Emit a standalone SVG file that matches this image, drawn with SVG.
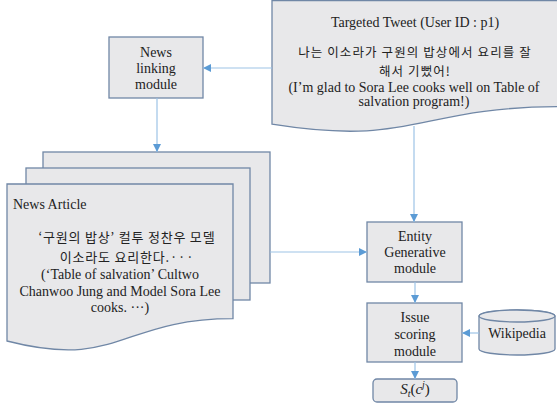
<svg xmlns="http://www.w3.org/2000/svg" width="557" height="408" viewBox="0 0 557 408">
<defs>
<style>
.box{fill:#E8E8EA;stroke:#7087A6;stroke-width:1.3}
.t{font-family:"Liberation Serif","Times New Roman",serif;font-size:14px;fill:#222;text-anchor:middle}
.k{font-family:"Noto Sans CJK KR","Noto Sans",sans-serif;font-size:13px;letter-spacing:0.8px}
.kt{font-family:"Noto Sans CJK KR","Noto Sans",sans-serif;font-size:12.5px;letter-spacing:1.1px}
.e{font-family:"Liberation Serif","Times New Roman",serif;font-size:14px;letter-spacing:0}
.ln{fill:none;stroke:#9DC3E6;stroke-width:1.2}
</style>
<marker id="ah" markerWidth="8" markerHeight="8" refX="8" refY="4" orient="auto" markerUnits="userSpaceOnUse">
<path d="M0,0 L8,4 L0,8 Z" fill="#5B9BD5"/>
</marker>
</defs>
<rect width="557" height="408" fill="#fff"/>

<g id="tweet">
<path class="box" d="M272,0.5 H560 V106.7 C416,106.7 416,147.2 272,124.2 Z"/>
<text class="t" x="415" y="27">Targeted Tweet (User ID : p1)</text>
<text class="t kt" x="415" y="57">나는 이소라가 구원의 밥상에서 요리를 잘</text>
<text class="t kt" x="415" y="75.5">해서 기뻤어!</text>
<text class="t" x="414" y="92">(I’m glad to Sora Lee cooks well on Table of</text>
<text class="t" x="414" y="106">salvation program!)</text>
</g>

<g id="news-linking">
<rect class="box" x="109" y="37" width="94" height="61"/>
<text class="t" x="156" y="57">News</text>
<text class="t" x="156" y="73">linking</text>
<text class="t" x="156" y="89">module</text>
</g>

<g id="news-article">
<rect class="box" x="43" y="152" width="227" height="131"/>
<rect class="box" x="26" y="168" width="224" height="132"/>
<path class="box" d="M7,184 H233 V318.7 C120,318.7 120,370 7,341 Z"/>
<text class="t" x="13" y="209" style="text-anchor:start">News Article</text>
<text class="t k" x="127" y="242">‘구원의 밥상’ 컬투 정찬우 모델</text>
<text class="t k" x="127" y="262">이소라도 요리한다.···</text>
<text class="t" x="120" y="279">(‘Table of salvation’ Cultwo</text>
<text class="t" x="120" y="296">Chanwoo Jung and Model Sora  Lee</text>
<text class="t" x="120" y="312">cooks. ···)</text>
</g>

<g id="entity">
<rect class="box" x="367" y="222" width="95" height="60"/>
<text class="t" x="415" y="241">Entity</text>
<text class="t" x="415" y="257">Generative</text>
<text class="t" x="415" y="273">module</text>
</g>

<g id="issue">
<rect class="box" x="367" y="303" width="95" height="59"/>
<text class="t" x="415" y="322">Issue</text>
<text class="t" x="415" y="339">scoring</text>
<text class="t" x="415" y="356">module</text>
</g>

<g id="wikipedia">
<path class="box" d="M479,316 V349 A38,6 0 0 0 555,349 V316 A38,6 0 0 0 479,316 Z"/>
<ellipse class="box" cx="517" cy="316" rx="38" ry="6"/>
<text class="t" x="517" y="338">Wikipedia</text>
</g>

<g id="output">
<rect class="box" x="373" y="379" width="84" height="23" rx="4"/>
<text class="t" x="415" y="394" style="font-size:15px"><tspan font-style="italic">S</tspan><tspan font-style="italic" font-size="10" dy="3">t</tspan><tspan dy="-3">(</tspan><tspan font-style="italic">c</tspan><tspan font-style="italic" font-size="10" dy="-6">j</tspan><tspan dy="6">)</tspan></text>
</g>

<g id="connectors">
<path class="ln" d="M272,68 H203" marker-end="url(#ah)"/>
<path class="ln" d="M157,98 V152" marker-end="url(#ah)"/>
<path class="ln" d="M270,252 H367" marker-end="url(#ah)"/>
<path class="ln" d="M414,126 V222" marker-end="url(#ah)"/>
<path class="ln" d="M415,282 V303" marker-end="url(#ah)"/>
<path class="ln" d="M415,362 V379" marker-end="url(#ah)"/>
<path class="ln" d="M479,333 H462" marker-end="url(#ah)"/>
</g>
</svg>
